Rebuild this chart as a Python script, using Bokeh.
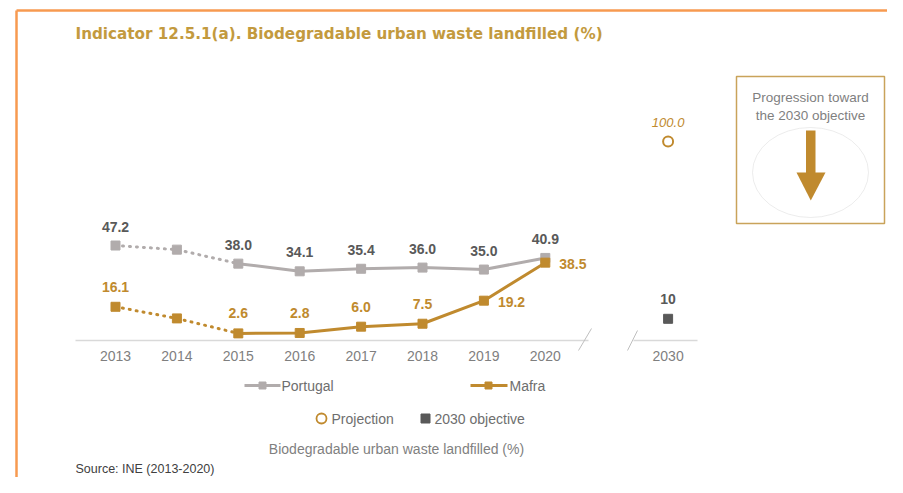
from bokeh.plotting import figure
from bokeh.models import Range1d
from bokeh.core.properties import value
from bokeh.embed import file_html
from bokeh.resources import INLINE

# ---------------- data ----------------
years = ["2013", "2014", "2015", "2016", "2017", "2018", "2019", "2020"]
objective_year = "2030"
portugal = [47.2, 45.1, 38.0, 34.1, 35.4, 36.0, 35.0, 40.9]
mafra = [16.1, 10.2, 2.6, 2.8, 6.0, 7.5, 19.2, 38.5]
labelled = [True, False, True, True, True, True, True, True]
objective_2030 = 10
projection_2030 = 100.0

title_text = "Indicator 12.5.1(a). Biodegradable urban waste landfilled (%)"
caption_text = "Biodegradable urban waste landfilled (%)"
source_text = "Source: INE (2013-2020)"
box_lines = ["Progression toward", "the 2030 objective"]

# ---------------- styling ----------------
GRAY = "#B1ACAC"
GOLD = "#C08A2E"
DARK = "#595959"
TICK = "#7F7F7F"
ORANGE = "#F79A50"
FONT = value("Liberation Sans")

W, H = 887, 477
# pixel calibration of the data scale
X0, DX = 115.0, 61.4   # x of first year, px per year step
Y0, DY = 338.0, 1.97   # y of value 0, px per unit


def dx(px):
    return (px - X0) / DX


def dy(py):
    return (Y0 - py) / DY


p = figure(width=W, height=H, output_backend="svg", toolbar_location=None,
           x_axis_type=None, y_axis_type=None, min_border=0,
           x_range=Range1d(dx(0), dx(W)), y_range=Range1d(dy(H), dy(0)))
p.grid.visible = False
p.outline_line_color = None
p.background_fill_color = "white"
p.border_fill_color = "white"

xs = list(range(len(years)))
x_obj = len(years) + 1  # 2030 placed after the axis break

# orange frame
p.line([dx(16), dx(16)], [dy(10), dy(500)], line_color=ORANGE, line_width=2.5)
p.line([dx(16), dx(910)], [dy(10), dy(10)], line_color=ORANGE, line_width=2.5)

# title
p.text([dx(75)], [dy(33)], text=[title_text], text_font=value("DejaVu Sans"),
       text_font_size="15.2px", text_font_style="bold", text_color="#C39A3E",
       text_align="left", text_baseline="middle")

# baseline axis with break
p.line([dx(75), dx(588)], [dy(340), dy(340)], line_color="#D9D9D9", line_width=1.5)
p.line([dx(633), dx(697)], [dy(340), dy(340)], line_color="#D9D9D9", line_width=1.5)
p.line([dx(578), dx(591)], [dy(350), dy(328)], line_color="#BFBFBF", line_width=1)
p.line([dx(627), dx(637)], [dy(350), dy(330)], line_color="#BFBFBF", line_width=1)

# tick labels
p.text(xs + [x_obj], [dy(355)] * (len(years) + 1), text=years + [objective_year],
       text_font=FONT, text_font_size="14px", text_color=TICK,
       text_align="center", text_baseline="middle")

# Portugal
p.line(xs[:3], portugal[:3], line_color=GRAY, line_width=3, line_dash="1 6", line_cap="round")
p.line(xs[2:], portugal[2:], line_color=GRAY, line_width=3)
p.scatter(xs, portugal, marker="square", size=9, fill_color=GRAY, line_color=GRAY)

# Mafra
p.line(xs[:3], mafra[:3], line_color=GOLD, line_width=3, line_dash="1 6", line_cap="round")
p.line(xs[2:], mafra[2:], line_color=GOLD, line_width=3)
p.scatter(xs, mafra, marker="square", size=9, fill_color=GOLD, line_color=GOLD)

# Portugal labels
pl_x = [x for x, l in zip(xs, labelled) if l]
pl_v = [v for v, l in zip(portugal, labelled) if l]
p.text(pl_x, [v + 19 / DY for v in pl_v], text=[f"{v:.1f}" for v in pl_v],
       text_font=FONT, text_font_size="14px", text_font_style="bold", text_color=DARK,
       text_align="center", text_baseline="middle")

# Mafra labels (above for early years, right for last two)
ma_x = [x for x, l in zip(xs[:-2], labelled[:-2]) if l]
ma_v = [v for v, l in zip(mafra[:-2], labelled[:-2]) if l]
p.text(ma_x, [v + 20 / DY for v in ma_v], text=[f"{v:.1f}" for v in ma_v],
       text_font=FONT, text_font_size="14px", text_font_style="bold", text_color=GOLD,
       text_align="center", text_baseline="middle")
p.text([x + 14 / DX for x in xs[-2:]], [v - 1 / DY for v in mafra[-2:]],
       text=[f"{v:.1f}" for v in mafra[-2:]],
       text_font=FONT, text_font_size="14px", text_font_style="bold", text_color=GOLD,
       text_align="left", text_baseline="middle")

# 2030 objective and projection
p.scatter([x_obj], [objective_2030], marker="square", size=9, fill_color=DARK, line_color=DARK)
p.text([x_obj], [objective_2030 + 20 / DY], text=[f"{objective_2030}"], text_font=FONT,
       text_font_size="14px", text_font_style="bold", text_color=DARK,
       text_align="center", text_baseline="middle")
p.scatter([x_obj], [projection_2030], marker="circle", size=10, fill_color=None,
          line_color=GOLD, line_width=2)
p.text([x_obj], [projection_2030 + 19 / DY], text=[f"{projection_2030:.1f}"], text_font=FONT,
       text_font_size="13px", text_font_style="italic", text_color=GOLD,
       text_align="center", text_baseline="middle")

# progression box
p.quad(left=[dx(736)], right=[dx(884)], top=[dy(76)], bottom=[dy(223)],
       fill_color=None, line_color="#C9A35A", line_width=1.5)
p.text([dx(810), dx(810)], [dy(97), dy(115)], text=box_lines, text_font=FONT,
       text_font_size="13.5px", text_color=TICK, text_align="center", text_baseline="middle")
p.ellipse([dx(810)], [dy(172)], width=116 / DX, height=90 / DY, fill_color=None,
          line_color="#E4E4E4", line_width=0.7)
p.quad(left=[dx(805.5)], right=[dx(815)], top=[dy(130)], bottom=[dy(173)],
       fill_color=GOLD, line_color=None)
p.patch([dx(796), dx(825), dx(810.3)], [dy(172), dy(172), dy(200)],
        fill_color=GOLD, line_color=None)

# legend
p.line([dx(244), dx(280)], [dy(385), dy(385)], line_color=GRAY, line_width=3)
p.scatter([dx(262)], [dy(385)], marker="square", size=7, fill_color=GRAY, line_color=GRAY)
p.line([dx(470), dx(507)], [dy(385), dy(385)], line_color=GOLD, line_width=3)
p.scatter([dx(488)], [dy(385)], marker="square", size=7, fill_color=GOLD, line_color=GOLD)
p.scatter([dx(321)], [dy(418)], marker="circle", size=10, fill_color=None,
          line_color=GOLD, line_width=1.8)
p.scatter([dx(425)], [dy(418)], marker="square", size=9, fill_color=DARK, line_color=DARK)
p.text([dx(281), dx(509), dx(331), dx(434)], [dy(385), dy(385), dy(418), dy(418)],
       text=["Portugal", "Mafra", "Projection", "2030 objective"], text_font=FONT,
       text_font_size="14px", text_color="#6E6E6E", text_align="left", text_baseline="middle")
p.text([dx(396)], [dy(448)], text=[caption_text], text_font=FONT, text_font_size="14px",
       text_color=TICK, text_align="center", text_baseline="middle")

# source
p.text([dx(75)], [dy(468)], text=[source_text], text_font=FONT, text_font_size="12.5px",
       text_color="#404040", text_align="left", text_baseline="middle")

open("out.html", "w").write(file_html(p, INLINE))
